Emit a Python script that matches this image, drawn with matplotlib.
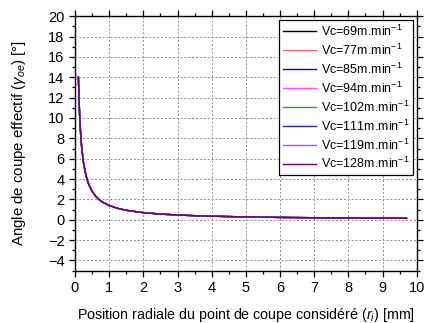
import matplotlib
matplotlib.use("Agg")
import matplotlib.pyplot as plt
from matplotlib.ticker import MultipleLocator

plt.rcParams['font.family'] = ['Liberation Sans', 'DejaVu Sans']
plt.rcParams['mathtext.fontset'] = 'custom'
plt.rcParams['mathtext.rm'] = 'Liberation Sans'
plt.rcParams['mathtext.it'] = 'Liberation Sans:italic'
plt.rcParams['mathtext.default'] = 'regular'

# Cutting speeds (m/min)
speeds = [69, 77, 85, 94, 102, 111, 119, 128]
colors = ['#000000', '#ff6666', '#0000ff', '#ff55ff', '#339933', '#22229a', '#a050ff', '#6a006a']

# Radial position of the cutting point (mm) and effective rake angle (deg)
radius = [0.10, 0.12, 0.14, 0.17, 0.20, 0.25, 0.30, 0.35, 0.40, 0.50, 0.60, 0.70, 0.80,
          1.0, 1.25, 1.5, 2.0, 2.5, 3.0, 3.5, 4.0, 5.0, 6.0, 7.0, 8.0, 9.0, 9.7]
gamma = [14.0, 11.7, 10.0, 8.2, 7.0, 5.6, 4.7, 4.0, 3.5, 2.8, 2.33, 2.0, 1.75,
         1.40, 1.12, 0.93, 0.70, 0.56, 0.47, 0.40, 0.35, 0.28, 0.23, 0.20, 0.18, 0.16, 0.14]

fig = plt.figure(figsize=(4.41, 3.23), dpi=100)
ax = fig.add_axes([0.170, 0.162, 0.775, 0.788])

for v, c in zip(speeds, colors):
    ax.plot(radius, gamma, color=c, lw=1.0, label=f'Vc={v}m.min$^{{-1}}$')

ax.set_xlim(0, 10)
ax.set_ylim(-5, 20)
ax.xaxis.set_major_locator(MultipleLocator(1))
ax.xaxis.set_minor_locator(MultipleLocator(0.5))
ax.yaxis.set_minor_locator(MultipleLocator(1))
ax.set_yticks(range(-4, 21, 2))

ax.grid(True, which='major', color='#8c8c8c', linestyle=(0, (2, 2)), linewidth=0.7)
ax.tick_params(which='both', direction='out', top=True, right=True,
               labeltop=False, labelright=False, labelsize=10.5, width=0.9)
ax.tick_params(which='major', length=4)
ax.tick_params(which='minor', length=2.5)
for s in ax.spines.values():
    s.set_linewidth(1.0)

ax.set_xlabel(r'Position radiale du point de coupe considéré ($\it{r}_{i}$) [mm]', fontsize=10.3, labelpad=8)
ax.set_ylabel(r'Angle de coupe effectif ($\it{\gamma}_{oe}$) [°]', fontsize=10.8, labelpad=14)

leg = ax.legend(loc='upper right', fontsize=9, frameon=True, fancybox=False,
                edgecolor='black', framealpha=1, borderpad=0.3, labelspacing=0.3,
                handlelength=2.6, handletextpad=0.4, borderaxespad=0.3)
leg.get_frame().set_linewidth(0.9)

fig.savefig('out.png', dpi=100)
